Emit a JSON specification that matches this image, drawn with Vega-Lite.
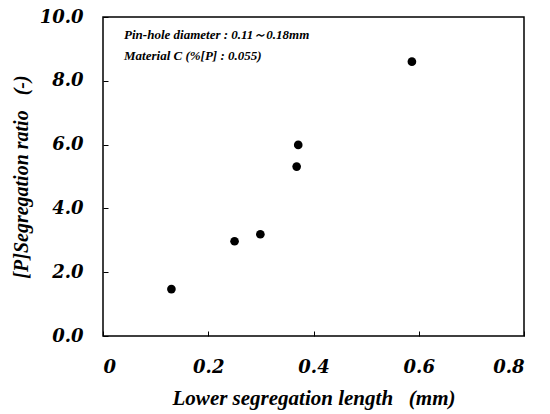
{
  "$schema": "https://vega.github.io/schema/vega-lite/v6.json",
  "width": 421,
  "height": 319,
  "autosize": {"type": "none"},
  "padding": {"left": 103, "top": 17, "right": 26, "bottom": 78},
  "background": "white",
  "config": {
    "view": {"stroke": "black", "strokeWidth": 1.5},
    "font": "Liberation Serif"
  },
  "layer": [
    {
      "data": {"values": [
        {"length": 0.13, "ratio": 1.47},
        {"length": 0.25, "ratio": 2.97},
        {"length": 0.299, "ratio": 3.19},
        {"length": 0.368, "ratio": 5.31},
        {"length": 0.371, "ratio": 5.99},
        {"length": 0.587, "ratio": 8.6}
      ]},
      "mark": {"type": "point", "filled": true, "color": "black", "opacity": 1, "size": 75},
      "encoding": {
        "x": {
          "field": "length", "type": "quantitative",
          "scale": {"domain": [0, 0.8], "nice": false, "zero": false},
          "axis": {
            "title": "Lower segregation length\u00a0\u00a0\u00a0(mm)",
            "values": [0, 0.2, 0.4, 0.6, 0.8],
            "labelExpr": "datum.value == 0 ? '0' : format(datum.value, '.1f')",
            "grid": false, "domain": false,
            "tickSize": -5, "tickColor": "black",
            "labelFont": "DejaVu Serif", "labelFontWeight": "bold", "labelFontStyle": "italic",
            "labelFontSize": 18, "labelColor": "black", "labelPadding": 27,
            "titleFont": "Liberation Serif", "titleFontWeight": "bold", "titleFontStyle": "italic",
            "titleFontSize": 21, "titleColor": "black", "titlePadding": 11
          }
        },
        "y": {
          "field": "ratio", "type": "quantitative",
          "scale": {"domain": [0, 10], "nice": false},
          "axis": {
            "title": "[P]Segregation ratio\u00a0\u00a0\u00a0(-)",
            "values": [0, 2, 4, 6, 8, 10],
            "format": ".1f",
            "grid": false, "domain": false,
            "tickSize": -5, "tickColor": "black",
            "labelFont": "DejaVu Serif", "labelFontWeight": "bold", "labelFontStyle": "italic",
            "labelFontSize": 18, "labelColor": "black", "labelPadding": 25,
            "titleFont": "Liberation Serif", "titleFontWeight": "bold", "titleFontStyle": "italic",
            "titleFontSize": 20, "titleColor": "black", "titlePadding": 8
          }
        }
      }
    },
    {
      "data": {"values": [
        {"x": 0.04, "y": 9.44, "label": "Pin-hole diameter : 0.11～0.18mm"},
        {"x": 0.04, "y": 8.78, "label": "Material C (%[P] : 0.055)"}
      ]},
      "mark": {"type": "text", "align": "left", "baseline": "middle", "font": "Liberation Serif", "fontWeight": "bold", "fontStyle": "italic", "fontSize": 13, "color": "black"},
      "encoding": {
        "x": {"field": "x", "type": "quantitative"},
        "y": {"field": "y", "type": "quantitative"},
        "text": {"field": "label"}
      }
    }
  ]
}
